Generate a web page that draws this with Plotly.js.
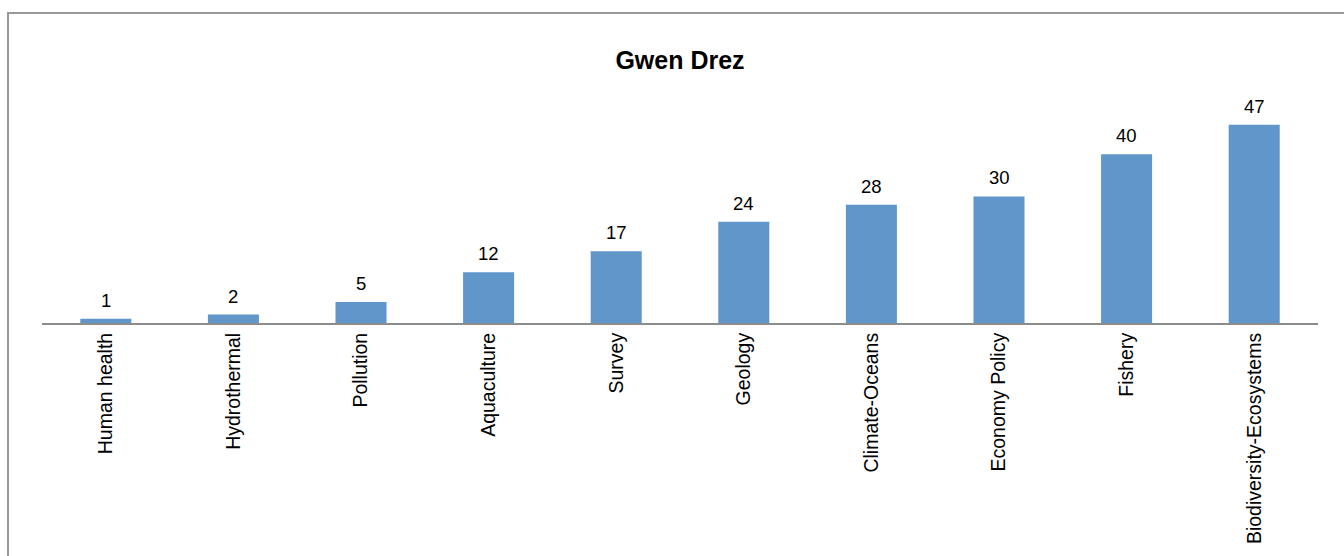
<!DOCTYPE html>
<html>
<head>
<meta charset="utf-8">
<script src="https://cdn.plot.ly/plotly-3.0.1.min.js"></script>
<style>
  html, body { margin: 0; padding: 0; background: #fff; overflow: hidden; }
  #frame { position: absolute; left: 7px; top: 12px; width: 1400px; height: 700px;
           border-left: 2px solid #999; border-top: 2px solid #999; pointer-events: none; z-index: 5; }
  #chart { position: absolute; left: 0; top: 0; width: 1344px; height: 556px; }
</style>
</head>
<body>
<div id="chart"></div>
<div id="frame"></div>
<script>
const chartTitle = "Gwen Drez";
const categories = ["Human health", "Hydrothermal", "Pollution", "Aquaculture", "Survey",
                    "Geology", "Climate-Oceans", "Economy Policy", "Fishery", "Biodiversity-Ecosystems"];
const values = [1, 2, 5, 12, 17, 24, 28, 30, 40, 47];

const barColor = "#6096C9";
const fontFamily = "Liberation Sans, Arial, sans-serif";

const trace = {
  type: "bar",
  x: categories,
  y: values,
  marker: { color: barColor, line: { width: 0 } },
  hoverinfo: "x+y"
};

const annotations = categories.map((c, i) => ({
  x: c, y: values[i], xref: "x", yref: "y",
  text: String(values[i]), showarrow: false,
  yanchor: "bottom", yshift: 6,
  font: { family: fontFamily, size: 18.5, color: "#000" }
}));

const layout = {
  width: 1344, height: 556,
  margin: { l: 42, r: 26, t: 112, b: 233, pad: 0 },
  paper_bgcolor: "#fff", plot_bgcolor: "#fff",
  showlegend: false,
  bargap: 0.6,
  title: {
    text: "<b>" + chartTitle + "</b>",
    x: 0.5, xref: "paper", xanchor: "center",
    y: 1 - 60 / 556, yref: "container", yanchor: "middle",
    font: { family: fontFamily, size: 25, color: "#000" }
  },
  xaxis: {
    type: "category",
    showline: true, linecolor: "#8c8c8c", linewidth: 2,
    ticks: "", showgrid: false, zeroline: false,
    tickangle: -90,
    tickfont: { family: fontFamily, size: 19.5, color: "#000" }
  },
  yaxis: {
    range: [0, 50],
    visible: false, showgrid: false, zeroline: false
  },
  annotations: annotations
};

Plotly.newPlot("chart", [trace], layout, { displayModeBar: false, staticPlot: true });
</script>
</body>
</html>
